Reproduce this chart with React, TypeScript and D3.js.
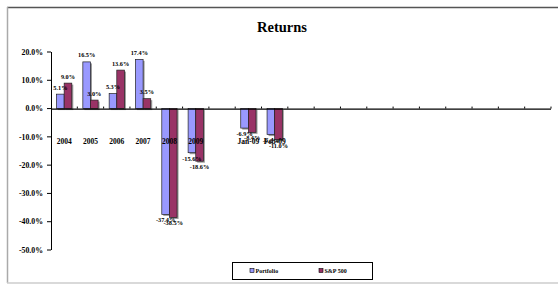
import * as d3 from 'd3';

const categories = ['2004', '2005', '2006', '2007', '2008', '2009', '', 'Jan-09', 'Feb-09', '', '', '', '', '', '', '', '', '', ''];
const portfolio: (number | null)[] = [5.1, 16.5, 5.3, 17.4, -37.4, -15.6, null, -6.9, -9.2, null, null, null, null, null, null, null, null, null, null];
const sp500: (number | null)[] = [9.0, 3.0, 13.6, 3.5, -38.5, -18.6, null, -8.4, -11.0, null, null, null, null, null, null, null, null, null, null];
const yTicks = [20, 10, 0, -10, -20, -30, -40, -50];
const seriesNames = ['Portfolio', 'S&P 500'];
const seriesColors = ['#9999ff', '#993366'];

const W = 558;
const H = 284;
const FONT = '"Liberation Serif", "Times New Roman", serif';

export default function App() {
  const keys = categories.map((_, i) => String(i));
  const x = d3.scaleBand().domain(keys).range([51, 551]).paddingInner(0.42).paddingOuter(0.21);
  const inner = d3.scaleBand().domain(['0', '1']).range([0, x.bandwidth()]);
  const y = d3.scaleLinear().domain([-50, 20]).range([250, 52]);
  const y0 = y(0);
  const step = x.step();
  const series = [portfolio, sp500];

  return (
    <svg width={W} height={H} style={{ position: 'absolute', left: 0, top: 0, background: '#fff' }} fontFamily={FONT}>
      {/* chart frame */}
      <line x1={7} x2={W} y1={7.5} y2={7.5} stroke="#555" strokeWidth={1.5} />
      <line x1={7.5} x2={7.5} y1={7} y2={283} stroke="#aaa" strokeWidth={1.5} />
      <line x1={7} x2={W} y1={283} y2={283} stroke="#ccc" strokeWidth={1.5} />

      <text x={282} y={32} textAnchor="middle" fontSize={14.5} fontWeight="bold">Returns</text>

      {/* y axis */}
      <line x1={51.5} x2={51.5} y1={y(20)} y2={y(-50)} stroke="#000" />
      {yTicks.map(t => (
        <g key={t}>
          <line x1={47} x2={51} y1={y(t)} y2={y(t)} stroke="#000" />
          <text x={43} y={y(t) + 2.7} textAnchor="end" fontSize={7.8} fontWeight="bold">{t.toFixed(1)}%</text>
        </g>
      ))}

      {/* bars */}
      {series.map((vals, s) => vals.map((v, i) => {
        if (v == null) return null;
        const bx = (x(keys[i]) || 0) + (inner(String(s)) || 0);
        const bw = inner.bandwidth();
        const top = Math.min(y(v), y0);
        const h = Math.abs(y(v) - y0);
        return (
          <g key={`${s}-${i}`}>
            <rect x={bx + 1.5} y={top + 1.5} width={bw} height={h} fill="#999" />
            <rect x={bx} y={top} width={bw} height={h} fill={seriesColors[s]} stroke="#222" strokeWidth={0.7} />
          </g>
        );
      }))}

      {/* x axis */}
      <line x1={51} x2={551} y1={y0 + 0.5} y2={y0 + 0.5} stroke="#000" strokeWidth={1.2} />
      {keys.map((k, i) => (
        <line key={k} x1={51 + step * (i + 1)} x2={51 + step * (i + 1)} y1={y0 - 2} y2={y0} stroke="#000" />
      ))}
      {categories.map((c, i) => (
        <text key={i} x={(x(keys[i]) || 0) + x.bandwidth() / 2} y={144} textAnchor="middle" fontSize={7.5} fontWeight="bold">{c}</text>
      ))}

      {/* data labels */}
      {series.map((vals, s) => vals.map((v, i) => {
        if (v == null) return null;
        const cx = (x(keys[i]) || 0) + (inner(String(s)) || 0) + inner.bandwidth() / 2;
        const ly = v >= 0 ? y(v) - 4.5 : y(v) + 8;
        return (
          <text key={`l${s}-${i}`} x={cx} y={ly} textAnchor="middle" fontSize={6.3} fontWeight="bold">{v.toFixed(1)}%</text>
        );
      }))}

      {/* legend */}
      <rect x={232.5} y={262.5} width={140} height={17} fill="#fff" stroke="#000" />
      {seriesNames.map((n, s) => (
        <g key={n} transform={`translate(${[250, 319][s]},${271})`}>
          <rect x={0} y={-2.5} width={4} height={4} fill={seriesColors[s]} stroke="#000" strokeWidth={0.6} />
          <text x={5.5} y={1.8} fontSize={6} fontWeight="bold">{n}</text>
        </g>
      ))}
    </svg>
  );
}
